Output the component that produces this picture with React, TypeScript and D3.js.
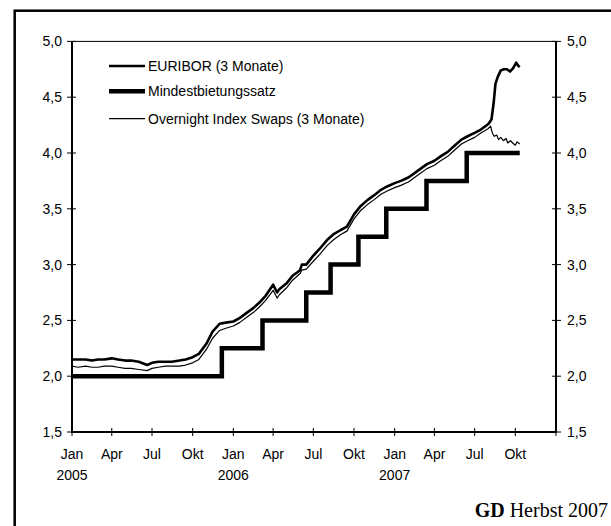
import React from "react";
import * as d3 from "d3";

// ---------- data ----------
const euriborDates = [
  "2005-01-01","2005-01-15","2005-02-01","2005-02-15","2005-03-01","2005-03-15","2005-04-01","2005-04-15",
  "2005-05-01","2005-05-15","2005-06-01","2005-06-20","2005-07-01","2005-07-15","2005-08-01","2005-08-15",
  "2005-09-01","2005-09-15","2005-10-01","2005-10-15","2005-11-01","2005-11-15","2005-12-01","2005-12-15",
  "2006-01-01","2006-01-15","2006-02-01","2006-02-15","2006-03-01","2006-03-15","2006-04-01","2006-04-10",
  "2006-04-15","2006-05-01","2006-05-15","2006-06-01","2006-06-05","2006-06-15","2006-07-01","2006-07-15",
  "2006-08-01","2006-08-15","2006-09-01","2006-09-15","2006-10-01","2006-10-15","2006-11-01","2006-11-15",
  "2006-12-01","2006-12-15","2007-01-01","2007-01-15","2007-02-01","2007-02-15","2007-03-01","2007-03-15",
  "2007-04-01","2007-04-15","2007-05-01","2007-05-15","2007-06-01","2007-06-15","2007-07-01","2007-07-15",
  "2007-08-01","2007-08-08","2007-08-13","2007-08-17","2007-08-22","2007-08-29","2007-09-05","2007-09-12",
  "2007-09-19","2007-09-26","2007-10-03","2007-10-08","2007-10-11"
];
const euriborValues = [
  2.15,2.15,2.15,2.14,2.15,2.15,2.16,2.15,
  2.14,2.14,2.13,2.10,2.12,2.13,2.13,2.13,
  2.14,2.15,2.17,2.20,2.29,2.40,2.47,2.48,
  2.49,2.52,2.57,2.61,2.66,2.72,2.82,2.75,
  2.78,2.83,2.90,2.95,3.00,3.00,3.08,3.14,
  3.22,3.27,3.31,3.34,3.45,3.52,3.58,3.62,
  3.67,3.70,3.73,3.75,3.78,3.82,3.86,3.90,
  3.93,3.97,4.01,4.06,4.12,4.15,4.18,4.21,
  4.26,4.30,4.45,4.62,4.68,4.74,4.75,4.75,
  4.73,4.76,4.81,4.78,4.77
];

const oisDates = [
  "2005-01-01","2005-01-15","2005-02-01","2005-02-15","2005-03-01","2005-03-15","2005-04-01","2005-04-15",
  "2005-05-01","2005-05-15","2005-06-01","2005-06-20","2005-07-01","2005-07-15","2005-08-01","2005-08-15",
  "2005-09-01","2005-09-15","2005-10-01","2005-10-15","2005-11-01","2005-11-15","2005-12-01","2005-12-15",
  "2006-01-01","2006-01-15","2006-02-01","2006-02-15","2006-03-01","2006-03-15","2006-04-01","2006-04-10",
  "2006-04-15","2006-05-01","2006-05-15","2006-06-01","2006-06-05","2006-06-15","2006-07-01","2006-07-15",
  "2006-08-01","2006-08-15","2006-09-01","2006-09-15","2006-10-01","2006-10-15","2006-11-01","2006-11-15",
  "2006-12-01","2006-12-15","2007-01-01","2007-01-15","2007-02-01","2007-02-15","2007-03-01","2007-03-15",
  "2007-04-01","2007-04-15","2007-05-01","2007-05-15","2007-06-01","2007-06-15","2007-07-01","2007-07-15",
  "2007-08-01","2007-08-06","2007-08-10","2007-08-14","2007-08-20","2007-08-24","2007-08-29","2007-09-04",
  "2007-09-10","2007-09-14","2007-09-20","2007-09-25","2007-10-01","2007-10-05","2007-10-11"
];
const oisValues = [
  2.09,2.08,2.09,2.08,2.08,2.09,2.09,2.08,
  2.07,2.07,2.06,2.05,2.07,2.08,2.09,2.09,
  2.09,2.10,2.12,2.15,2.24,2.34,2.41,2.43,
  2.45,2.48,2.53,2.57,2.62,2.68,2.77,2.70,
  2.73,2.79,2.86,2.92,2.95,2.96,3.03,3.09,
  3.17,3.22,3.27,3.30,3.41,3.48,3.54,3.58,
  3.63,3.66,3.69,3.71,3.74,3.78,3.82,3.86,
  3.89,3.93,3.97,4.02,4.08,4.11,4.14,4.18,
  4.22,4.24,4.18,4.15,4.16,4.12,4.14,4.11,
  4.13,4.09,4.11,4.09,4.07,4.10,4.08
];

const refiDates = ["2005-01-01","2005-12-06","2006-03-08","2006-06-15","2006-08-09","2006-10-11","2006-12-13","2007-03-14","2007-06-13","2007-10-11"];
const refiValues = [2.00,2.25,2.50,2.75,3.00,3.25,3.50,3.75,4.00,4.00];

const yTicks = [1.5,2.0,2.5,3.0,3.5,4.0,4.5,5.0];
const monthLabels = ["Jan","Apr","Jul","Okt"];
const yearLabels = ["2005","2006","2007"];
const legendLabels = ["EURIBOR (3 Monate)","Mindestbietungssatz","Overnight Index Swaps (3 Monate)"];

// ---------- layout ----------
const W = 611, H = 526;
const X0 = 72, X1 = 556, Y0 = 432, Y1 = 41.4;
const parse = d3.timeParse("%Y-%m-%d");

export default function App() {
  const x = d3.scaleTime().domain([new Date(2005,0,1), new Date(2008,0,1)]).range([X0, X1]);
  const y = d3.scaleLinear().domain([1.5, 5]).range([Y0, Y1]);
  const mk = (ds: string[], vs: number[]) => ds.map((d, i) => ({ d: parse(d) as Date, v: vs[i] }));
  const eur = mk(euriborDates, euriborValues);
  const ois = mk(oisDates, oisValues);
  const refi = mk(refiDates, refiValues);
  const line = d3.line<{d: Date; v: number}>().x(p => x(p.d)).y(p => y(p.v));
  const step = d3.line<{d: Date; v: number}>().x(p => x(p.d)).y(p => y(p.v)).curve(d3.curveStepAfter);
  const xTicks = x.ticks(d3.timeMonth.every(3) as any);
  const font = "'Liberation Sans', Arial, sans-serif";

  return (
    <svg width={W} height={H} style={{ position: "absolute", left: 0, top: 0, background: "#fff" }}>
      <rect x={14.7} y={10.7} width={700} height={600} fill="none" stroke="#000" strokeWidth={2.5} />
      {/* plot frame */}
      <line x1={X0} x2={X1} y1={Y1} y2={Y1} stroke="#000" strokeWidth={1} />
      <line x1={X0} x2={X0} y1={Y1} y2={Y0} stroke="#000" strokeWidth={2} />
      <line x1={X1} x2={X1} y1={Y1} y2={Y0} stroke="#000" strokeWidth={2} />
      <line x1={X0 - 1} x2={X1 + 1} y1={Y0} y2={Y0} stroke="#000" strokeWidth={2} />
      {/* y ticks */}
      {yTicks.map(t => (
        <g key={t}>
          <line x1={X0 - 5} x2={X0 + 4} y1={y(t)} y2={y(t)} stroke="#000" strokeWidth={1} />
          <line x1={X1 - 4} x2={X1 + 5} y1={y(t)} y2={y(t)} stroke="#000" strokeWidth={1} />
          <text x={62} y={y(t) + 5} textAnchor="end" fontFamily={font} fontSize={14}>{d3.format(".1f")(t).replace(".", ",")}</text>
          <text x={567} y={y(t) + 5} textAnchor="start" fontFamily={font} fontSize={14}>{d3.format(".1f")(t).replace(".", ",")}</text>
        </g>
      ))}
      {/* x ticks */}
      {xTicks.map((t, i) => (
        <g key={i}>
          <line x1={x(t)} x2={x(t)} y1={Y0 - 4} y2={Y0 + 4} stroke="#000" strokeWidth={1} />
          {i < 12 && (
            <text x={x(t)} y={459} textAnchor="middle" fontFamily={font} fontSize={14}>{monthLabels[t.getMonth() / 3]}</text>
          )}
          {i < 12 && t.getMonth() === 0 && (
            <text x={x(t)} y={480} textAnchor="middle" fontFamily={font} fontSize={14}>{yearLabels[t.getFullYear() - 2005]}</text>
          )}
        </g>
      ))}
      {/* series */}
      <path d={step(refi) || ""} fill="none" stroke="#000" strokeWidth={4.5} strokeLinejoin="miter" />
      <path d={line(ois) || ""} fill="none" stroke="#000" strokeWidth={1.2} strokeLinejoin="round" />
      <path d={line(eur) || ""} fill="none" stroke="#000" strokeWidth={2.6} strokeLinejoin="round" />
      {/* legend */}
      {legendLabels.map((l, i) => {
        const ly = [66, 91.3, 118.7][i];
        const sw = [2.6, 4.5, 1.2][i];
        return (
          <g key={l}>
            <line x1={109} x2={145} y1={ly} y2={ly} stroke="#000" strokeWidth={sw} />
            <text x={148} y={ly + 5} fontFamily={font} fontSize={14}>{l}</text>
          </g>
        );
      })}
      <text x={608} y={517} textAnchor="end" fontFamily="'Liberation Serif', 'Times New Roman', serif" fontSize={20}>
        <tspan fontWeight="bold">GD</tspan> Herbst 2007
      </text>
    </svg>
  );
}
